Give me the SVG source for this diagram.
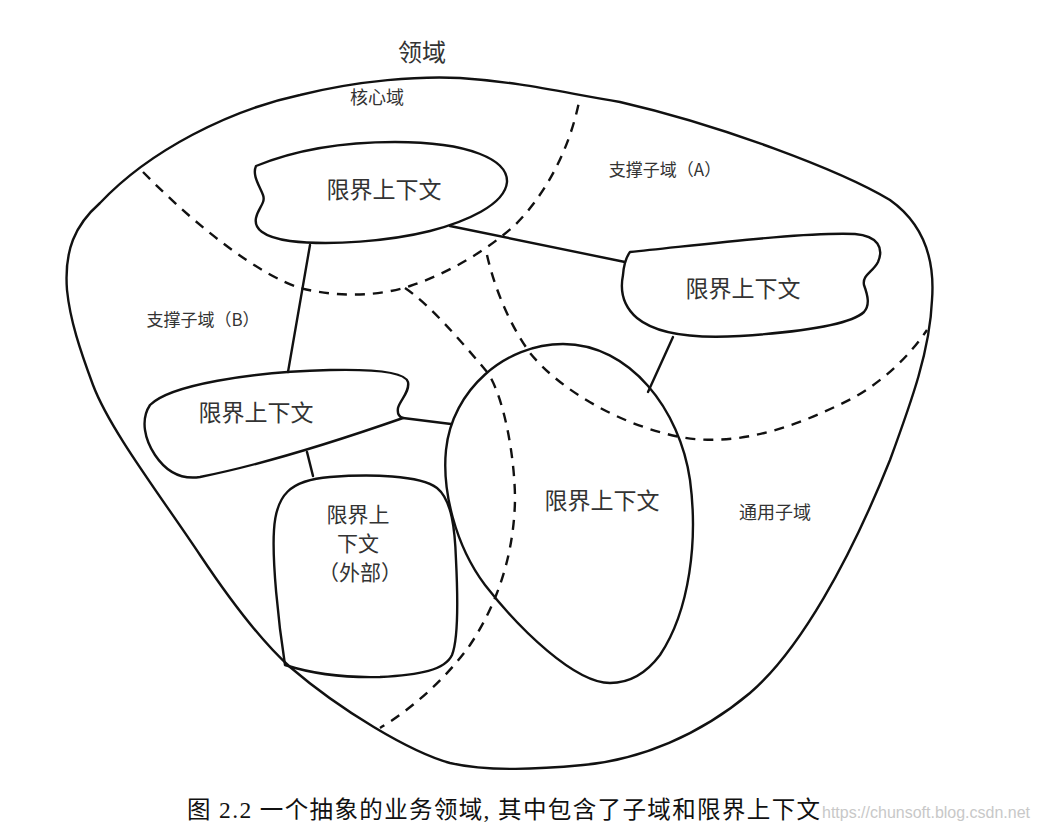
<svg xmlns="http://www.w3.org/2000/svg" width="1038" height="830" viewBox="0 0 1038 830">
<style>
.ln{fill:none;stroke:#111;stroke-width:2.4;stroke-linejoin:round;stroke-linecap:round}
.ds{fill:none;stroke:#111;stroke-width:2.4;stroke-dasharray:10 8}
.t{font-family:"Noto Sans CJK SC","Noto Sans",sans-serif;fill:#333;text-anchor:middle}
.lb{font-size:23px}
.sm{font-size:17px}
</style>
<rect width="1038" height="830" fill="#fff"/>
<g id="domain">
<path class="ln" d="M 67,290 C 64,250 75,225 100,203 C 150,150 230,110 300,95 C 360,80 420,76 460,78 C 520,82 560,92 620,102 C 720,125 840,170 890,200 C 925,225 935,260 932,300 C 930,350 912,400 890,460 C 850,560 800,650 750,693 C 700,735 640,760 583,765 C 540,769 490,772 450,763 C 410,752 340,710 290,667 C 260,640 230,600 200,555 C 160,495 110,430 93,385 C 80,350 70,320 67,290 Z"/>
<text class="t" x="422" y="61" font-size="24">领域</text>
</g>
<g id="subdomains">
<path class="ds" d="M 143,172 C 200,230 260,275 300,288 C 340,298 380,296 410,286 C 450,273 490,248 515,225 C 545,195 570,150 580,97"/>
<path class="ds" d="M 405,288 C 430,305 460,340 488,373 C 505,400 515,460 515,500 C 514,550 500,600 470,645 C 445,680 410,710 380,728"/>
<path class="ds" d="M 487,255 C 495,290 510,325 530,353 C 560,390 620,425 680,437 C 740,448 800,425 853,398 C 885,380 910,355 927,330"/>
<text class="t" x="377" y="104" font-size="18">核心域</text>
<text class="t sm" x="665" y="176">支撑子域（A）</text>
<text class="t sm" x="203" y="326">支撑子域（B）</text>
<text class="t" x="775" y="519" font-size="18">通用子域</text>
</g>
<g id="connectors">
<path class="ln" d="M 450,226 L 625,262"/>
<path class="ln" d="M 310,245 L 288,372"/>
<path class="ln" d="M 307,452 L 313,476"/>
<path class="ln" d="M 403,418 L 451,424"/>
<path class="ln" d="M 673,337 L 648,392"/>
</g>
<g id="bc-core">
<path class="ln" d="M 256,166 C 300,148 350,142 395,142 C 470,142 508,160 507,182 C 505,205 465,222 430,231 C 390,241 330,246 290,241 C 262,237 254,228 256,218 C 258,208 266,203 263,195 C 259,185 252,175 256,166 Z"/>
<text class="t lb" x="384" y="198">限界上下文</text>
</g>
<g id="bc-a">
<path class="ln" d="M 630,252 C 700,245 800,232 855,234 C 878,236 884,248 878,262 C 873,272 862,275 864,285 C 868,296 870,305 864,312 C 850,325 800,332 740,336 C 690,339 655,333 637,318 C 622,305 620,290 623,275 C 624,262 627,256 630,252 Z"/>
<text class="t lb" x="743" y="297">限界上下文</text>
</g>
<g id="bc-b">
<path class="ln" d="M 403,418 C 340,440 260,465 200,477 C 180,480 165,470 155,455 C 145,440 140,420 150,405 C 170,385 250,372 330,370 C 375,369 405,372 408,382 C 410,392 400,400 398,408 C 397,414 400,417 403,418 Z"/>
<text class="t lb" x="256" y="421">限界上下文</text>
</g>
<g id="bc-external">
<path class="ln" d="M 285,665 C 278,620 272,560 274,530 C 276,495 290,480 330,477 C 370,474 420,475 437,488 C 452,500 455,530 456,560 C 458,600 458,640 452,655 C 445,670 420,675 380,677 C 340,678 310,673 285,665 Z"/>
<text class="t" font-size="21" x="358" y="522">限界上</text>
<text class="t" font-size="21" x="358" y="551">下文</text>
<text class="t" font-size="21" x="360" y="580">（外部）</text>
</g>
<g id="bc-generic">
<path class="ln" d="M 563,344 C 630,344 680,410 690,480 C 698,540 690,610 660,655 C 645,675 628,683 610,683 C 575,683 520,630 485,585 C 455,545 442,490 446,450 C 452,390 505,344 563,344 Z"/>
<text class="t lb" x="602" y="509">限界上下文</text>
</g>
<g id="caption">
<text x="187" y="818" font-family="'Liberation Serif','Noto Sans CJK SC',serif" font-size="23.5" fill="#111" textLength="633" lengthAdjust="spacing">图 2.2  一个抽象的业务领域, 其中包含了子域和限界上下文</text>
<text x="822" y="818" font-family="'Liberation Sans',sans-serif" font-size="16" fill="#c8c8c8" textLength="208" lengthAdjust="spacingAndGlyphs">https://chunsoft.blog.csdn.net</text>
</g>
</svg>
